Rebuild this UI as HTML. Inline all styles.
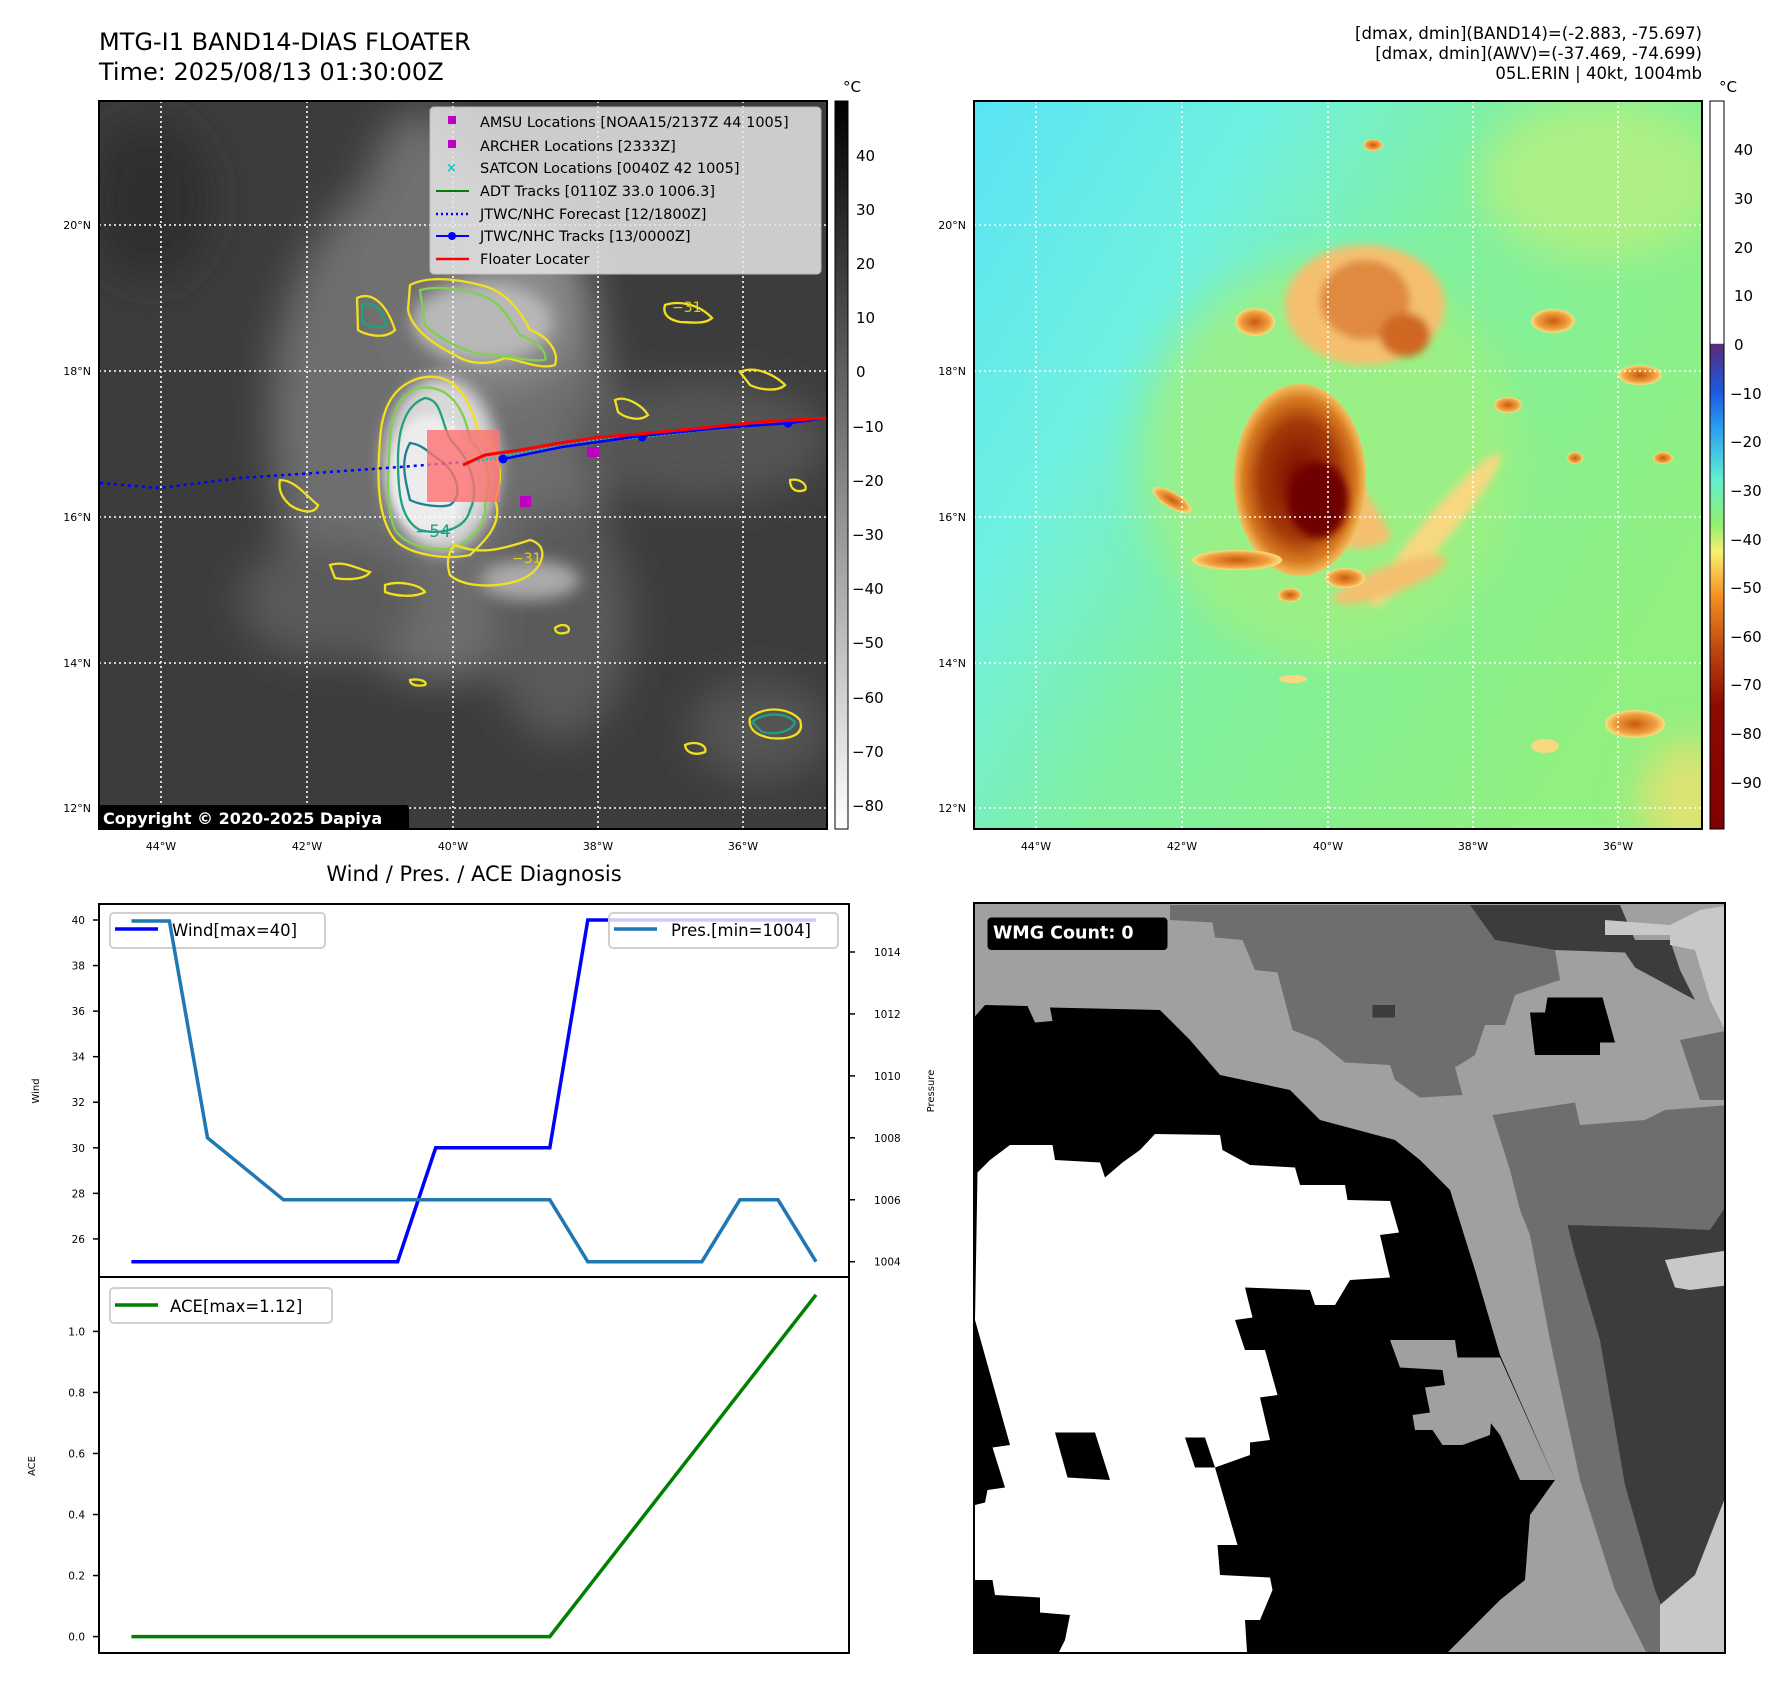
<!DOCTYPE html>
<html><head><meta charset="utf-8"><style>
html,body{margin:0;padding:0;background:#fff}
svg{display:block;font-family:"DejaVu Sans","Liberation Sans",sans-serif}
</style></head><body>
<svg width="1792" height="1690" viewBox="0 0 1792 1690" xmlns="http://www.w3.org/2000/svg">
<defs>
<clipPath id="c1"><rect x="99" y="101" width="728" height="728"/></clipPath>
<clipPath id="c2"><rect x="974" y="101" width="728" height="728"/></clipPath>
<clipPath id="c3"><rect x="974" y="903" width="751" height="750"/></clipPath>
<filter id="b8"><feGaussianBlur stdDeviation="8"/></filter>
<filter id="b20"><feGaussianBlur stdDeviation="20"/></filter>
<filter id="b4"><feGaussianBlur stdDeviation="4"/></filter>
<linearGradient id="cb1" x1="0" y1="0" x2="0" y2="1"><stop offset="0" stop-color="#000"/><stop offset="1" stop-color="#fff"/></linearGradient>
<linearGradient id="cb2" x1="0" y1="0" x2="0" y2="1">
<stop offset="0" stop-color="#fff"/><stop offset="0.333" stop-color="#fff"/><stop offset="0.334" stop-color="#5a2a7a"/>
<stop offset="0.40" stop-color="#1c5ae0"/><stop offset="0.45" stop-color="#2aa0f0"/><stop offset="0.52" stop-color="#60f0d0"/>
<stop offset="0.58" stop-color="#90f070"/><stop offset="0.62" stop-color="#f8f070"/><stop offset="0.68" stop-color="#f49020"/>
<stop offset="0.75" stop-color="#c04a10"/><stop offset="0.83" stop-color="#8a0c00"/><stop offset="1" stop-color="#800000"/></linearGradient>
<linearGradient id="bg2" x1="0" y1="0" x2="1" y2="0.6"><stop offset="0" stop-color="#5ae4f4"/><stop offset="0.3" stop-color="#70f0e0"/><stop offset="0.55" stop-color="#80f0a0"/><stop offset="1" stop-color="#90f080"/></linearGradient>
<radialGradient id="storm" cx="0.5" cy="0.5" r="0.5"><stop offset="0" stop-color="#7a0400"/><stop offset="0.6" stop-color="#a53a08"/><stop offset="0.85" stop-color="#d87a20"/><stop offset="1" stop-color="#f4c060"/></radialGradient>
<radialGradient id="blob" cx="0.5" cy="0.5" r="0.5"><stop offset="0" stop-color="#c85a10"/><stop offset="0.7" stop-color="#f0a040"/><stop offset="1" stop-color="#f8e080"/></radialGradient>
</defs>

<text x="99" y="50" font-size="24">MTG-I1 BAND14-DIAS FLOATER</text>
<text x="99" y="80" font-size="24">Time: 2025/08/13 01:30:00Z</text>
<g font-size="16.5" text-anchor="end">
<text x="1702" y="39">[dmax, dmin](BAND14)=(-2.883, -75.697)</text>
<text x="1702" y="59">[dmax, dmin](AWV)=(-37.469, -74.699)</text>
<text x="1702" y="79">05L.ERIN | 40kt, 1004mb</text>
</g>

<g clip-path="url(#c1)">
<rect x="99" y="101" width="728" height="728" fill="#3c3c3c"/>
<g filter="url(#b20)">
<ellipse cx="440" cy="420" rx="170" ry="260" fill="#6e6e6e"/>
<ellipse cx="480" cy="300" rx="110" ry="90" fill="#8a8a8a"/>
<ellipse cx="420" cy="250" rx="60" ry="140" fill="#707070"/>
<ellipse cx="330" cy="600" rx="90" ry="60" fill="#5a5a5a"/>
<ellipse cx="700" cy="440" rx="130" ry="60" fill="#555"/>
<ellipse cx="560" cy="620" rx="70" ry="120" fill="#5a5a5a"/>
<ellipse cx="760" cy="730" rx="70" ry="50" fill="#555"/>
<ellipse cx="150" cy="200" rx="60" ry="80" fill="#2e2e2e"/>
</g>
<g filter="url(#b8)">
<ellipse cx="441" cy="465" rx="58" ry="88" fill="#d8d8d8"/>
<ellipse cx="482" cy="322" rx="70" ry="40" fill="#b8b8b8"/>
<ellipse cx="530" cy="580" rx="50" ry="20" fill="#aaa"/>
</g>
<ellipse cx="430" cy="475" rx="40" ry="60" fill="#ececec" filter="url(#b4)"/>
<g stroke="#fff" stroke-width="1.6" stroke-dasharray="2,3">
<line x1="161" y1="101" x2="161" y2="829"/><line x1="307" y1="101" x2="307" y2="829"/><line x1="453" y1="101" x2="453" y2="829"/><line x1="598" y1="101" x2="598" y2="829"/><line x1="743" y1="101" x2="743" y2="829"/>
<line x1="99" y1="225" x2="827" y2="225"/><line x1="99" y1="371" x2="827" y2="371"/><line x1="99" y1="517" x2="827" y2="517"/><line x1="99" y1="663" x2="827" y2="663"/><line x1="99" y1="808" x2="827" y2="808"/>
</g>
<g fill="none" stroke-width="2.3">
<path d="M420,378 C455,370 470,400 478,430 C500,450 505,475 495,500 C505,525 480,545 470,555 C445,560 410,555 395,540 C375,515 378,470 380,440 C382,405 395,385 420,378 Z" stroke="#f0e020"/>
<path d="M420,388 C450,384 465,410 470,440 C490,460 492,480 485,505 C488,525 470,540 455,548 C430,552 405,545 395,530 C385,505 388,470 390,440 C392,410 400,393 420,388 Z" stroke="#80d050"/>
<path d="M425,398 C445,400 440,430 455,445 C470,460 480,490 470,510 C465,530 440,535 420,530 C400,520 398,490 398,460 C398,430 405,405 425,398 Z" stroke="#20a080"/>
<path d="M410,443 C425,445 430,455 440,460 C455,470 465,495 450,505 C440,508 420,505 410,500 C405,480 400,460 410,443 Z" stroke="#208090"/>
<path d="M410,285 C430,275 460,280 480,285 C505,290 520,310 530,330 C545,335 560,350 555,365 C540,370 520,360 505,358 C490,365 470,365 455,355 C435,345 412,330 408,310 Z" stroke="#f0e020"/>
<path d="M420,290 C440,285 465,290 480,295 C500,300 510,320 520,335 C535,340 548,352 545,360 C530,362 505,355 490,355 C470,355 440,340 425,325 Z" stroke="#80d050"/>
<path d="M455,545 C480,555 500,550 530,540 C550,545 545,570 520,580 C490,590 460,585 450,575 C445,560 450,550 455,545 Z" stroke="#f0e020"/>
<path d="M357,298 C370,292 385,300 395,330 C385,340 365,335 358,330 Z" stroke="#f0e020"/>
<path d="M362,305 C372,300 382,308 386,325 C375,330 365,326 362,320 Z" stroke="#20a080"/>
<path d="M280,480 C295,480 305,495 318,505 C315,515 300,512 290,505 C282,498 278,490 280,480 Z" stroke="#f0e020"/>
<path d="M665,305 C680,300 700,305 712,318 C705,325 690,322 680,322 C670,320 662,315 665,305 Z" stroke="#f0e020"/>
<path d="M740,372 C755,365 775,375 785,385 C778,392 760,390 750,385 Z" stroke="#f0e020"/>
<path d="M615,400 C625,395 642,405 648,415 C640,422 625,418 618,412 Z" stroke="#f0e020"/>
<path d="M750,718 C765,705 790,708 800,720 C805,735 790,740 770,738 C755,735 748,728 750,718 Z" stroke="#f0e020"/>
<path d="M752,722 C765,712 785,712 795,722 C792,732 775,735 762,732 Z" stroke="#20a080"/>
<path d="M790,480 C800,478 808,485 805,490 C797,493 790,490 790,480 Z" stroke="#f0e020"/>
<path d="M330,565 C345,560 360,570 370,572 C365,580 345,580 335,578 Z" stroke="#f0e020"/>
<path d="M385,585 C400,580 420,585 425,592 C415,598 395,596 385,592 Z" stroke="#f0e020"/>
<path d="M685,745 C695,740 708,745 705,752 C695,756 686,753 685,745 Z" stroke="#f0e020"/>
<path d="M555,628 C562,622 572,626 568,632 C560,635 555,633 555,628 Z" stroke="#f0e020"/>
<path d="M410,680 C420,678 428,682 425,685 C415,687 410,684 410,680 Z" stroke="#f0e020"/>
</g>
<text x="415" y="537" font-size="17" fill="#20a080">−54</text>
<text x="512" y="563" font-size="14" fill="#e0d020">−31</text>
<text x="672" y="312" font-size="14" fill="#e0d020">−31</text>
<polyline points="100,483 160,488 240,478 330,472 400,467 463,462" fill="none" stroke="#0000ff" stroke-width="2.5" stroke-dasharray="3,4"/>
<rect x="427" y="430" width="73" height="72" fill="#ff7070" opacity="0.8"/>
<polyline points="478,461 530,452 594,441 640,437 700,430 788,422 827,418" fill="none" stroke="#20c0c0" stroke-width="3" stroke-dasharray="2,2"/>
<polyline points="503,459 562,447 640,436 720,428 790,423 827,418" fill="none" stroke="#0000ff" stroke-width="2.5"/>
<circle cx="503" cy="459" r="4.5" fill="#00f"/><circle cx="642" cy="437" r="4.5" fill="#00f"/><circle cx="788" cy="423" r="4.5" fill="#00f"/>
<polyline points="463,465 485,455 520,450 560,443 600,437 640,434 700,428 760,422 827,418" fill="none" stroke="#ff0000" stroke-width="3"/>
<rect x="520" y="496" width="11" height="11" fill="#c000c0"/>
<rect x="587" y="447" width="12" height="10" fill="#c000c0"/>
<g>
<rect x="430" y="107" width="391" height="167" rx="4" fill="#e6e6e6" opacity="0.85" stroke="#ccc"/>
<g font-size="14.5" fill="#000">
<rect x="448" y="116" width="8" height="8" fill="#c000c0"/><text x="480" y="127">AMSU Locations [NOAA15/2137Z 44 1005]</text>
<rect x="448" y="140" width="8" height="8" fill="#c000c0"/><text x="480" y="151">ARCHER Locations [2333Z]</text>
<text x="446" y="172" fill="#20c0c0" font-size="13" font-weight="bold">×</text><text x="480" y="173">SATCON Locations [0040Z 42 1005]</text>
<line x1="436" y1="191" x2="469" y2="191" stroke="#008000" stroke-width="2"/><text x="480" y="196">ADT Tracks [0110Z 33.0 1006.3]</text>
<line x1="436" y1="214" x2="469" y2="214" stroke="#00f" stroke-width="2.5" stroke-dasharray="2,3"/><text x="480" y="219">JTWC/NHC Forecast [12/1800Z]</text>
<line x1="436" y1="236" x2="469" y2="236" stroke="#00f" stroke-width="2"/><circle cx="452" cy="236" r="4" fill="#00f"/><text x="480" y="241">JTWC/NHC Tracks [13/0000Z]</text>
<line x1="436" y1="259" x2="469" y2="259" stroke="#f00" stroke-width="2.5"/><text x="480" y="264">Floater Locater</text>
</g></g>
<rect x="99" y="805" width="310" height="26" rx="3" fill="#000"/>
<text x="103" y="824" font-size="16" font-weight="bold" fill="#fff">Copyright © 2020-2025 Dapiya</text>
</g>
<rect x="99" y="101" width="728" height="728" fill="none" stroke="#000" stroke-width="2"/>
<g>
<rect x="835" y="101" width="13" height="728" fill="url(#cb1)" stroke="#000" stroke-width="1"/>
<text x="852" y="92" font-size="15" text-anchor="middle">°C</text>
<g font-size="15">
<text x="856" y="161">40</text><text x="856" y="215">30</text><text x="856" y="269">20</text><text x="856" y="323">10</text><text x="856" y="377">0</text>
<text x="852" y="432">−10</text><text x="852" y="486">−20</text><text x="852" y="540">−30</text><text x="852" y="594">−40</text><text x="852" y="648">−50</text>
<text x="852" y="703">−60</text><text x="852" y="757">−70</text><text x="852" y="811">−80</text></g></g>
<g font-size="11">
<g text-anchor="middle"><text x="161" y="850">44°W</text><text x="307" y="850">42°W</text><text x="453" y="850">40°W</text><text x="598" y="850">38°W</text><text x="743" y="850">36°W</text></g>
<g text-anchor="end"><text x="91" y="229">20°N</text><text x="91" y="375">18°N</text><text x="91" y="521">16°N</text><text x="91" y="667">14°N</text><text x="91" y="812">12°N</text></g></g>

<g clip-path="url(#c2)">
<rect x="974" y="101" width="728" height="728" fill="url(#bg2)"/>
<g filter="url(#b20)" opacity="0.8">
<ellipse cx="1330" cy="460" rx="190" ry="200" fill="#a0f080"/>
<ellipse cx="1600" cy="180" rx="120" ry="80" fill="#b8f080"/>
<ellipse cx="1690" cy="800" rx="50" ry="60" fill="#f0e070"/>
</g>
<g filter="url(#b4)">
<ellipse cx="1365" cy="305" rx="80" ry="60" fill="#f4c070"/>
<ellipse cx="1365" cy="300" rx="45" ry="40" fill="#e08a40"/>
<ellipse cx="1405" cy="335" rx="25" ry="22" fill="#d06820"/>
<path d="M1330,420 C1375,520 1390,520 1390,540 C1350,560 1300,555 1330,420 Z" fill="#f4c070"/>
<ellipse cx="1436" cy="530" rx="100" ry="14" transform="rotate(-50 1436 530)" fill="#f8d880"/>
<ellipse cx="1390" cy="580" rx="60" ry="14" transform="rotate(-20 1390 580)" fill="#f4c070"/>
</g>
<ellipse cx="1300" cy="480" rx="66" ry="96" fill="url(#storm)"/>
<ellipse cx="1318" cy="500" rx="30" ry="38" fill="#700000" filter="url(#b4)"/>
<ellipse cx="1255" cy="322" rx="20" ry="14" fill="url(#blob)"/>
<ellipse cx="1553" cy="321" rx="22" ry="12" fill="url(#blob)"/>
<ellipse cx="1640" cy="375" rx="22" ry="10" fill="url(#blob)"/>
<ellipse cx="1508" cy="405" rx="14" ry="8" fill="url(#blob)"/>
<ellipse cx="1172" cy="500" rx="22" ry="8" transform="rotate(30 1172 500)" fill="url(#blob)"/>
<ellipse cx="1237" cy="560" rx="45" ry="10" fill="url(#blob)"/>
<ellipse cx="1345" cy="578" rx="20" ry="10" fill="url(#blob)"/>
<ellipse cx="1290" cy="595" rx="12" ry="7" fill="url(#blob)"/>
<ellipse cx="1635" cy="724" rx="30" ry="14" fill="url(#blob)"/>
<ellipse cx="1575" cy="458" rx="8" ry="6" fill="url(#blob)"/>
<ellipse cx="1663" cy="458" rx="10" ry="6" fill="url(#blob)"/>
<ellipse cx="1373" cy="145" rx="10" ry="6" fill="url(#blob)"/>
<ellipse cx="1545" cy="746" rx="14" ry="7" fill="#f8d880"/>
<ellipse cx="1293" cy="679" rx="14" ry="4" fill="#f8d880"/>
<g stroke="#fff" stroke-width="1.6" stroke-dasharray="2,3">
<line x1="1036" y1="101" x2="1036" y2="829"/><line x1="1182" y1="101" x2="1182" y2="829"/><line x1="1328" y1="101" x2="1328" y2="829"/><line x1="1473" y1="101" x2="1473" y2="829"/><line x1="1618" y1="101" x2="1618" y2="829"/>
<line x1="974" y1="225" x2="1702" y2="225"/><line x1="974" y1="371" x2="1702" y2="371"/><line x1="974" y1="517" x2="1702" y2="517"/><line x1="974" y1="663" x2="1702" y2="663"/><line x1="974" y1="808" x2="1702" y2="808"/>
</g></g>
<rect x="974" y="101" width="728" height="728" fill="none" stroke="#000" stroke-width="2"/>
<g>
<rect x="1710" y="101" width="14" height="728" fill="url(#cb2)" stroke="#000" stroke-width="1"/>
<text x="1728" y="92" font-size="15" text-anchor="middle">°C</text>
<g font-size="15">
<text x="1734" y="155">40</text><text x="1734" y="204">30</text><text x="1734" y="253">20</text><text x="1734" y="301">10</text><text x="1734" y="350">0</text>
<text x="1730" y="399">−10</text><text x="1730" y="447">−20</text><text x="1730" y="496">−30</text><text x="1730" y="545">−40</text><text x="1730" y="593">−50</text>
<text x="1730" y="642">−60</text><text x="1730" y="690">−70</text><text x="1730" y="739">−80</text><text x="1730" y="788">−90</text></g></g>
<g font-size="11">
<g text-anchor="middle"><text x="1036" y="850">44°W</text><text x="1182" y="850">42°W</text><text x="1328" y="850">40°W</text><text x="1473" y="850">38°W</text><text x="1618" y="850">36°W</text></g>
<g text-anchor="end"><text x="966" y="229">20°N</text><text x="966" y="375">18°N</text><text x="966" y="521">16°N</text><text x="966" y="667">14°N</text><text x="966" y="812">12°N</text></g></g>

<g clip-path="url(#c3)">
<g transform="translate(960,890) scale(0.5)">
<rect x="28" y="28" width="1510" height="1510" fill="#a0a0a0"/>
<polygon fill="#6e6e6e" points="420,30 1020,30 1070,100 1190,120 1200,180 1110,210 1090,270 1050,270 1030,330 990,355 1005,410 920,415 870,380 860,350 770,345 715,300 665,280 635,165 590,160 565,100 510,95 505,65 420,60"/>
<polygon fill="#3c3c3c" points="1020,30 1320,30 1350,100 1420,100 1440,160 1470,220 1350,155 1330,125 1190,120 1070,100"/>
<polygon fill="#c8c8c8" points="1290,60 1420,70 1480,40 1540,30 1540,300 1500,220 1470,120 1420,110 1420,90 1290,90"/>
<polygon fill="#6e6e6e" points="1440,300 1540,280 1540,420 1480,420"/>
<polygon fill="#6e6e6e" points="1065,450 1230,425 1240,470 1370,460 1410,440 1540,430 1540,1540 1380,1540 1310,1400 1240,1180 1180,900 1140,690 1120,640 1100,560"/>
<polygon fill="#3c3c3c" points="1215,670 1390,675 1500,680 1540,620 1540,1540 1430,1500 1390,1400 1330,1190 1280,900 1230,730"/>
<polygon fill="#c8c8c8" points="1410,740 1540,720 1540,790 1460,800 1430,795"/>
<polygon fill="#c8c8c8" points="1400,1430 1470,1370 1540,1190 1540,1540 1400,1540"/>
<polygon fill="#000" points="28,255 50,230 135,232 150,265 185,262 180,235 400,240 460,300 520,370 660,400 720,460 870,500 920,540 980,600 1030,760 1080,930 1190,1180 1140,1250 1130,1380 1080,1420 1000,1500 960,1540 28,1540"/>
<polygon fill="#a0a0a0" points="860,900 990,900 995,935 1080,935 1190,1180 1120,1180 1080,1090 1030,1025 1065,1025 1060,1090 1005,1110 965,1110 945,1080 910,1080 905,1050 940,1045 930,995 970,990 965,960 880,955"/>
<polygon fill="#fff" points="35,565 60,540 100,510 185,510 190,540 280,545 290,575 325,545 360,520 390,488 520,490 525,520 580,550 670,555 680,590 770,590 775,620 860,622 878,685 840,690 860,775 780,780 750,830 710,830 700,800 570,795 585,855 550,860 570,920 610,920 635,1010 600,1015 620,1100 580,1105 580,1130 510,1155 555,1310 515,1310 520,1370 620,1375 625,1400 600,1460 570,1460 575,1540 190,1540 210,1500 220,1450 160,1445 160,1415 70,1410 65,1380 30,1380 30,1230 50,1225 55,1200 90,1195 65,1115 100,1110 30,860"/>
<polygon fill="#000" points="190,1085 270,1085 300,1180 215,1175"/>
<polygon fill="#000" points="450,1095 490,1095 510,1155 470,1155"/>
<polygon fill="#000" points="1140,245 1170,245 1175,215 1255,215 1285,215 1310,305 1280,305 1280,330 1150,330"/>
<rect x="825" y="230" width="45" height="25" fill="#3c3c3c"/>
<rect x="55" y="55" width="360" height="65" rx="8" fill="#000"/>
<text x="66" y="97" font-size="35" font-weight="bold" fill="#fff">WMG Count: 0</text>
</g></g>
<rect x="974" y="903" width="751" height="750" fill="none" stroke="#000" stroke-width="2"/>

<text x="474" y="881" font-size="21" text-anchor="middle">Wind / Pres. / ACE Diagnosis</text>
<g id="chart"></g>
</svg>
<script>
var windVals=[25,25,25,25,25,25,25,25,30,30,30,30,40,40,40,40,40,40,40];
var presVals=[1015,1015,1008,1007,1006,1006,1006,1006,1006,1006,1006,1006,1004,1004,1004,1004,1006,1006,1004];
var aceVals=[0,0,0,0,0,0,0,0,0,0,0,0,0.16,0.32,0.48,0.64,0.80,0.96,1.12];
var windTicks=[26,28,30,32,34,36,38,40];
var presTicks=[1004,1006,1008,1010,1012,1014];
var aceTicks=[0.0,0.2,0.4,0.6,0.8,1.0];
var aceTickLabels=["0.0","0.2","0.4","0.6","0.8","1.0"];

var NS="http://www.w3.org/2000/svg";
var g=document.getElementById('chart');
function mk(t,a,parent){var e=document.createElementNS(NS,t);for(var k in a)e.setAttribute(k,a[k]);(parent||g).appendChild(e);return e;}
var L=99,R=849,T1=904,B1=1277,T2=1277,B2=1653;
function xS(i){return 131.4+(684.6/(windVals.length-1))*i;}
function yW(v){return 1261.7-22.78*(v-25);}
function yP(p){return 1261.7-30.97*(p-1004);}
function yA(a){return 1636.6-305.2*a;}
function pts(vals,fy){return vals.map(function(v,i){return xS(i).toFixed(1)+','+fy(v).toFixed(1);}).join(' ');}

var f1=mk('rect',{x:L,y:T1,width:R-L,height:B1-T1,fill:'none',stroke:'#000','stroke-width':2});


var f2=mk('rect',{x:L,y:T2,width:R-L,height:B2-T2,fill:'none',stroke:'#000','stroke-width':2});



windTicks.forEach(function(v){
  var y=yW(v);
  var tk=mk('line',{x1:L-6,y1:y,x2:L,y2:y,stroke:'#000','stroke-width':1.5});
  
  
  var t=mk('text',{x:L-14,y:y+4,'font-size':10.5,'text-anchor':'end'});t.textContent=v;
  
  
});
presTicks.forEach(function(v){
  var y=yP(v);
  var tk=mk('line',{x1:R,y1:y,x2:R+6,y2:y,stroke:'#000','stroke-width':1.5});
  
  
  var t=mk('text',{x:R+25,y:y+4,'font-size':10.5});t.textContent=v;
  
  
});
aceTicks.forEach(function(v,i){
  var y=yA(v);
  var tk=mk('line',{x1:L-6,y1:y,x2:L,y2:y,stroke:'#000','stroke-width':1.5});
  
  
  var t=mk('text',{x:L-14,y:y+4,'font-size':10.5,'text-anchor':'end'});t.textContent=aceTickLabels[i];
  
  
});
var yl1=mk('text',{x:0,y:0,'font-size':10,'text-anchor':'middle',transform:'translate(39,1091) rotate(-90)'});yl1.textContent='Wind';


var yl2=mk('text',{x:0,y:0,'font-size':10,'text-anchor':'middle',transform:'translate(934,1091) rotate(-90)'});yl2.textContent='Pressure';


var yl3=mk('text',{x:0,y:0,'font-size':10,'text-anchor':'middle',transform:'translate(35,1466) rotate(-90)'});yl3.textContent='ACE';



var wl=mk('polyline',{points:pts(windVals,yW),fill:'none',stroke:'#0000ff','stroke-width':3.5});


var lg1=mk('rect',{x:110,y:913,width:215,height:35,rx:4,fill:'#fff','fill-opacity':0.8,stroke:'#d0d0d0','stroke-width':2});


var ls1=mk('line',{x1:115,y1:929,x2:158,y2:929,stroke:'#0000ff','stroke-width':3.5});


var lt1=mk('text',{x:172,y:936,'font-size':16.5});lt1.textContent='Wind[max=40]';


var pl=mk('polyline',{points:pts(presVals,yP),fill:'none',stroke:'#1f77b4','stroke-width':3.5});


var lg2=mk('rect',{x:609,y:913,width:229,height:35,rx:4,fill:'#fff','fill-opacity':0.8,stroke:'#d0d0d0','stroke-width':2});


var ls2=mk('line',{x1:614,y1:929,x2:657,y2:929,stroke:'#1f77b4','stroke-width':3.5});


var lt2=mk('text',{x:671,y:936,'font-size':16.5});lt2.textContent='Pres.[min=1004]';


var al=mk('polyline',{points:pts(aceVals,yA),fill:'none',stroke:'#008000','stroke-width':3.5});


var lg3=mk('rect',{x:110,y:1288,width:222,height:35,rx:4,fill:'#fff','fill-opacity':0.8,stroke:'#d0d0d0','stroke-width':2});


var ls3=mk('line',{x1:115,y1:1305,x2:158,y2:1305,stroke:'#008000','stroke-width':3.5});


var lt3=mk('text',{x:170,y:1312,'font-size':16.5});lt3.textContent='ACE[max=1.12]';


</script>
</body></html>
